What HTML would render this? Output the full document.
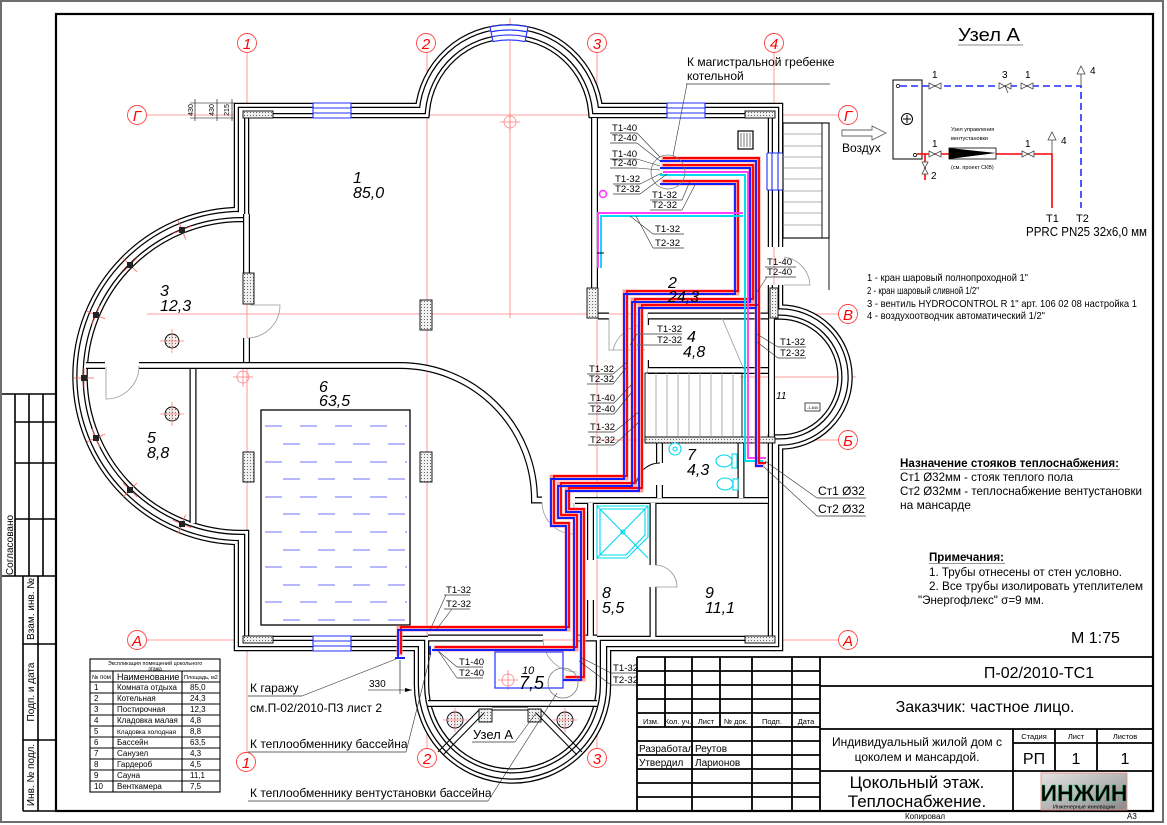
<!DOCTYPE html>
<html><head><meta charset="utf-8"><title>plan</title>
<style>
html,body{margin:0;padding:0;background:#fff;width:1167px;height:825px;overflow:hidden}
svg{display:block}
text{font-family:"Liberation Sans",Arial,sans-serif;fill:#000}
.ax{stroke:#ff8080;stroke-width:.8;fill:none}
.axc{stroke:#ff4040;stroke-width:.9;fill:#fff}
.axt{fill:#f00;font-style:italic;font-size:15px;text-anchor:middle}
.wa{stroke:#000;stroke-width:15.5;fill:none}
.wb{stroke:#fff;stroke-width:13;fill:none}
.wc{stroke:#000;stroke-width:7.5;fill:none}
.wd{stroke:#fff;stroke-width:5;fill:none}
.ia{stroke:#000;stroke-width:7;fill:none}
.ib{stroke:#fff;stroke-width:4.6;fill:none}
.rm{font-style:italic;font-size:16px}
.lb{font-size:9.6px}
.ul{stroke:#666;stroke-width:.9;fill:none}
.ld{stroke:#333;stroke-width:.6;fill:none}
.ph{stroke:#ff9d9d;stroke-width:6;fill:none}
.pr{stroke:#f00;stroke-width:1.9;fill:none}
.pb{stroke:#1020ff;stroke-width:1.9;fill:none}
.pm{stroke:#ff40ff;stroke-width:1.9;fill:none}
.pc{stroke:#00dcef;stroke-width:1.9;fill:none}
.g{stroke:#999;stroke-width:.8;fill:none}
.k{stroke:#000;fill:none}
.bw{stroke:#2030ff;stroke-width:1.1;fill:none}
.cy{stroke:#00d8ee;stroke-width:1.1;fill:none}
.tb{stroke:#000;stroke-width:1.8;fill:none}
.t8{font-size:8px}
</style></head><body>
<svg width="1167" height="825" viewBox="0 0 1167 825" xmlns="http://www.w3.org/2000/svg">
<defs>
<pattern id="ht" width="3" height="3" patternUnits="userSpaceOnUse"><rect width="3" height="3" fill="#f0f0f0"/><rect x="1" y="1" width="1" height="1" fill="#666"/></pattern>
<linearGradient id="lg" x1="0" y1="0" x2="1" y2="1"><stop offset="0" stop-color="#e4e4e4"/><stop offset="1" stop-color="#8a8a8a"/></linearGradient>
</defs>

<!-- image border -->
<rect x="1" y="1" width="1162" height="821" fill="none" stroke="#6e6e6e" stroke-width="2"/>
<!-- drawing frame -->
<rect x="56" y="14" width="1097" height="797" fill="none" stroke="#000" stroke-width="2.2"/>

<!-- left stamp -->
<g stroke="#000" stroke-width="1.6" fill="none">
<path d="M2,394 H56 M15,394 V576 M29,394 V576 M43,394 V576 M15,422 H56 M15,463 H56 M15,519 H56 M2,576 H56 M23,576 V811 M38,576 V811 M23,644 H56 M23,740 H56 M23,811 H56"/>
</g>
<text font-size="10" text-anchor="middle" transform="translate(13,545) rotate(-90)">Согласовано</text>
<text font-size="10" text-anchor="middle" transform="translate(34,609) rotate(-90)">Взам. инв. №</text>
<text font-size="10" text-anchor="middle" transform="translate(34,692) rotate(-90)">Подп. и дата</text>
<text font-size="10" text-anchor="middle" transform="translate(34,775) rotate(-90)">Инв. № подл.</text>

<!-- axes -->
<path class="ax" d="M247,53 V752 M427,53 V748 M597,53 V748 M774,53 V652 M510,18 V318 M147,115 H838 M147,314 H838 M600,440 H838 M147,640 H838 M740,377 H856"/>
<g>
<circle class="axc" cx="247" cy="43" r="9.5"/><text class="axt" x="247" y="49">1</text>
<circle class="axc" cx="426" cy="43" r="9.5"/><text class="axt" x="426" y="49">2</text>
<circle class="axc" cx="597" cy="43" r="9.5"/><text class="axt" x="597" y="49">3</text>
<circle class="axc" cx="774" cy="43" r="9.5"/><text class="axt" x="774" y="49">4</text>
<circle class="axc" cx="246" cy="762" r="9.5"/><text class="axt" x="246" y="768">1</text>
<circle class="axc" cx="427" cy="758" r="9.5"/><text class="axt" x="427" y="764">2</text>
<circle class="axc" cx="597" cy="758" r="9.5"/><text class="axt" x="597" y="764">3</text>
<circle class="axc" cx="137" cy="115" r="9.5"/><text class="axt" x="137" y="121">Г</text>
<circle class="axc" cx="848" cy="115" r="9.5"/><text class="axt" x="848" y="121">Г</text>
<circle class="axc" cx="848" cy="314" r="9.5"/><text class="axt" x="848" y="320">В</text>
<circle class="axc" cx="848" cy="440" r="9.5"/><text class="axt" x="848" y="446">Б</text>
<circle class="axc" cx="137" cy="640" r="9.5"/><text class="axt" x="137" y="646">А</text>
<circle class="axc" cx="848" cy="640" r="9.5"/><text class="axt" x="848" y="646">А</text>
</g>
<!-- small axis markers -->
<g class="ax">
<circle cx="510" cy="122" r="6"/><path d="M500,122 H520 M510,112 V132"/>
<circle cx="243" cy="377" r="6"/><path d="M233,377 H253 M243,367 V387"/>
<circle cx="508" cy="680" r="6"/><path d="M498,680 H518 M508,670 V690"/>
</g>

<!-- dimension top-left -->
<g stroke="#000" stroke-width=".6" fill="none">
<path d="M190,103 H234 M190,118 H234 M195,99 V121 M217,99 V121 M232,99 V121"/>
</g>
<text font-size="7" text-anchor="middle" transform="translate(193,110) rotate(-90)">430</text>
<text font-size="7" text-anchor="middle" transform="translate(214,110) rotate(-90)">430</text>
<text font-size="7" text-anchor="middle" transform="translate(229,110) rotate(-90)">215</text>

<!-- outer walls -->
<g>
<path class="wa" d="M775.5,247 L775.5,110.5 L595.6,110.5 A87,87 0 0 0 422.4,110.5 L241.5,110.5 L241.5,214.5 A161.5,161.5 0 0 0 241.5,537.5 L241.5,643.5 L421.5,643.5 L421.5,685 A91,91 0 0 0 603.5,685 L603.5,643.5 L775.5,643.5 L775.5,442 L780,442 A65,65 0 0 0 780,312 L775.5,312 L775.5,285"/>
<path class="wb" d="M775.5,247 L775.5,110.5 L595.6,110.5 A87,87 0 0 0 422.4,110.5 L241.5,110.5 L241.5,214.5 A161.5,161.5 0 0 0 241.5,537.5 L241.5,643.5 L421.5,643.5 L421.5,685 A91,91 0 0 0 603.5,685 L603.5,643.5 L775.5,643.5 L775.5,442 L780,442 A65,65 0 0 0 780,312 L775.5,312 L775.5,285"/>
<path class="wc" d="M775.5,247 L775.5,110.5 L595.6,110.5 A87,87 0 0 0 422.4,110.5 L241.5,110.5 L241.5,214.5 A161.5,161.5 0 0 0 241.5,537.5 L241.5,643.5 L421.5,643.5 L421.5,685 A91,91 0 0 0 603.5,685 L603.5,643.5 L775.5,643.5 L775.5,442 L780,442 A65,65 0 0 0 780,312 L775.5,312 L775.5,285"/>
<path class="wd" d="M775.5,247 L775.5,110.5 L595.6,110.5 A87,87 0 0 0 422.4,110.5 L241.5,110.5 L241.5,214.5 A161.5,161.5 0 0 0 241.5,537.5 L241.5,643.5 L421.5,643.5 L421.5,685 A91,91 0 0 0 603.5,685 L603.5,643.5 L775.5,643.5 L775.5,442 L780,442 A65,65 0 0 0 780,312 L775.5,312 L775.5,285"/>
</g>

<!-- interior walls -->
<path class="ia" d="M246.5,214 V273 M246.5,338 V362 M86,365.5 H105 M139,365.5 H400 A134.5,134.5 0 0 1 534.5,500 H542 M193,369 V523 M594.5,118 V288 M598,316 H609 M645.5,313 V325 M645.5,360 V373 M648,316 H768 M648,370.5 H768 M771.5,318 V440 M575,500.5 H768 M590.5,503 V560 M590.5,600 V637 M653,503 V565 M653,587 V637 M659.5,443 V463 M659.5,485 V498 M741,443 V498 M428,638 H543 M578,638 H597 M428,703.5 H597"/>
<path class="ib" d="M246.5,214 V273 M246.5,338 V362 M86,365.5 H105 M139,365.5 H400 A134.5,134.5 0 0 1 534.5,500 H542 M193,369 V523 M594.5,118 V288 M598,316 H609 M645.5,313 V325 M645.5,360 V373 M648,316 H768 M648,370.5 H768 M771.5,318 V440 M575,500.5 H768 M590.5,503 V560 M590.5,600 V637 M653,503 V565 M653,587 V637 M659.5,443 V463 M659.5,485 V498 M741,443 V498 M428,638 H543 M578,638 H597 M428,703.5 H597"/>

<!-- windows -->
<g>
<rect x="313" y="102" width="38" height="17" fill="#fff"/>
<path class="bw" d="M313,103 H351 M313,108 H351 M313,113 H351 M313,118 H351 M313,103 V118 M351,103 V118"/>
<rect x="667" y="102" width="38" height="17" fill="#fff"/>
<path class="bw" d="M667,103 H705 M667,108 H705 M667,113 H705 M667,118 H705 M667,103 V118 M705,103 V118"/>
<rect x="313" y="636" width="38" height="16" fill="#fff"/>
<path class="bw" d="M313,636 H351 M313,641 H351 M313,646 H351 M313,651 H351 M313,636 V651 M351,636 V651"/>
<rect x="767" y="153" width="17" height="37" fill="#fff"/>
<path class="bw" d="M767,153 V190 M772,153 V190 M778,153 V190 M783,153 V190 M767,153 H783 M767,190 H783"/>
<path d="M490,26.9 A94,94 0 0 1 528,26.9 L525,41.6 A79,79 0 0 0 493,41.6 Z" fill="#fff"/>
<path class="bw" d="M490,26.9 A94,94 0 0 1 528,26.9 M491,31.8 A89,89 0 0 1 527,31.8 M492,36.7 A84,84 0 0 1 526,36.7 M493,41.6 A79,79 0 0 1 525,41.6 M490,26.9 L493,41.6 M528,26.9 L525,41.6"/>
</g>

<!-- hatched blocks & piers -->
<g stroke="#000" stroke-width=".9" fill="url(#ht)">
<rect x="243" y="111" width="30" height="7"/>
<rect x="745" y="111" width="30" height="7"/>
<rect x="243" y="636" width="30" height="7"/>
<rect x="745" y="636" width="30" height="7"/>
<rect x="243" y="273" width="11" height="31"/>
<rect x="243" y="452" width="11" height="30"/>
<rect x="420" y="300" width="12" height="30"/>
<rect x="420" y="452" width="12" height="30"/>
<rect x="587" y="288" width="11" height="30"/>
<rect x="770" y="288" width="8" height="30"/>
<rect x="645" y="437" width="130" height="6"/>
<rect x="479" y="709" width="13" height="13"/>
<rect x="528" y="709" width="13" height="13"/>
<circle cx="172" cy="341" r="7"/>
<circle cx="172" cy="414" r="7"/>
<circle cx="455" cy="720" r="8"/>
<circle cx="565" cy="720" r="8"/>
</g>
<g class="ax">
<path d="M160,341 H184 M172,329 V353 M160,414 H184 M172,402 V426 M443,720 H467 M455,708 V732 M553,720 H577 M565,708 V732"/>
</g>

<!-- posts on big arc -->
<g stroke="#ff6060" stroke-width=".8">
<path d="M185.8,239.3 L178.2,220.7 M191.3,226.2 L172.7,233.8 M137.1,272 L122.9,258 M137,257.9 L123,272.1 M105.2,318.9 L86.8,311.1 M99.9,305.8 L92.1,324.2 M94,378 L74,378 M84,368 L84,388 M105.2,434.1 L86.8,441.9 M99.9,447.2 L92.1,428.8 M137,482.9 L123,497.2 M137.2,497 L122.9,483 M185.7,514.7 L178.3,533.3 M191.3,527.7 L172.7,520.3"/>
</g>
<g fill="#222">
<rect x="179" y="227" width="6" height="6"/><rect x="127" y="262" width="6" height="6"/><rect x="93" y="312" width="6" height="6"/><rect x="81" y="375" width="6" height="6"/><rect x="93" y="435" width="6" height="6"/><rect x="127" y="487" width="6" height="6"/><rect x="179" y="521" width="6" height="6"/>
</g>

<!-- pool -->
<rect x="261" y="410" width="149" height="215" fill="none" stroke="#000" stroke-width="1.3"/>
<g stroke="#7070ff" stroke-width="1" stroke-dasharray="17 18">
<path d="M265,426 H407"/><path d="M265,444 H407" stroke-dashoffset="17"/>
<path d="M265,462 H407"/><path d="M265,479 H407" stroke-dashoffset="17"/>
<path d="M265,497 H407"/><path d="M265,514 H407" stroke-dashoffset="17"/>
<path d="M265,532 H407"/><path d="M265,550 H407" stroke-dashoffset="17"/>
<path d="M265,567 H407"/><path d="M265,585 H407" stroke-dashoffset="17"/>
<path d="M265,602 H407"/><path d="M265,620 H407" stroke-dashoffset="17"/>
</g>

<!-- stairs inside -->
<rect x="645" y="373" width="97" height="64" fill="none" stroke="#000" stroke-width=".9"/>
<path class="g" d="M656,373 V437 M667,373 V437 M678,373 V437 M689,373 V437 M700,373 V437 M711,373 V437 M722,373 V437 M733,373 V437 M722,318 L745,372"/>
<!-- outer stairs -->
<rect x="783" y="123" width="46" height="115" fill="none" stroke="#000" stroke-width="1.1"/>
<path class="g" d="M783,134 H822 M783,146 H822 M783,157 H822 M783,168 H822 M783,179 H822 M783,191 H822 M783,202 H822 M783,213 H822 M783,225 H822"/>
<path d="M822,123 V238 M829,238 V290" stroke="#000" stroke-width=".9"/>

<!-- doors -->
<g class="g" stroke="#888">
<path d="M250,305 H280 A33,33 0 0 1 247,338"/>
<path d="M106,367 V399 A33,33 0 0 0 139,366"/>
<path d="M542,502 A32,32 0 0 0 574,534 V503"/>
<path d="M609,318 V350 H645 M613,350 A33,33 0 0 1 643,325"/>
<path d="M655,565 A22,22 0 0 1 677,587 H655"/>
<path d="M784,257 A30,30 0 0 1 810,285 H784"/>
<path d="M543,639 A34,34 0 0 0 577,672"/>
</g>
<path d="M660,463 A24,24 0 0 0 636,487" fill="none" stroke="#000" stroke-width="1"/>

<!-- vent room bottom beams -->
<g stroke="#000" stroke-width="1" fill="none">
<path d="M479,710 L438,752 M484,713 L443,755 M541,710 L582,752 M536,713 L577,755 M492,710 H528 M492,707 H528"/>
</g>
<!-- room 10 box -->
<rect x="495" y="652" width="68" height="36" fill="none" stroke="#2030ff" stroke-width="1.2"/>

<!-- sanitary -->
<g class="cy">
<circle cx="675" cy="449" r="6"/><circle cx="675" cy="449" r="2"/>
<ellipse cx="724" cy="461" rx="8" ry="6"/><rect x="732" y="454" width="5" height="14"/>
<ellipse cx="725" cy="484" rx="8" ry="6"/><rect x="733" y="479" width="5" height="11"/>
<path d="M597,506 H648 V537 L627,558 H597 Z M600,509 H645 V535 L626,555 H600 Z M597,506 L648,558 M648,506 L597,558"/>
<circle cx="623" cy="532" r="2"/>
</g>
<rect x="738" y="131" width="15" height="18" fill="#fff" stroke="#000" stroke-width="1.2"/>
<path d="M741,133 V147 M744,133 V147 M747,133 V147 M750,133 V147" stroke="#555" stroke-width=".8"/>
<circle cx="603" cy="194" r="3.5" fill="none" stroke="#ff30ff" stroke-width="1.5"/>

<!-- room 11 -->
<text x="776" y="399" font-size="10" font-style="italic">11</text>
<rect x="805" y="403" width="15" height="8" fill="#fff" stroke="#000" stroke-width=".7"/>
<text x="807" y="409" font-size="4">-1,840</text>

<!-- PIPES -->
<g>
<polyline class="ph" transform="translate(1.5,-1.5)" points="660,184 735,184 735,294 624,294 624,479 551,479 551,526 566,526 566,630 398,630 398,657"/>
<polyline class="ph" transform="translate(1.5,-1.5)" points="660,168 750,168 750,302 632,302 632,486 558,486 558,518 574,518 574,650 432,650"/>
<polyline class="ph" transform="translate(1.5,-1.5)" points="756,308 639,308 639,491 566,491 566,512 581,512 581,680 563,680"/>
<polyline class="ph" transform="translate(1.5,-1.5)" points="660,161 756,161 756,466 763,466"/>

<polyline class="pr" transform="translate(3,-3)" points="660,184 735,184 735,294 624,294 624,479 551,479 551,526 566,526 566,630 398,630 398,657"/>
<polyline class="pb" points="660,184 735,184 735,294 624,294 624,479 551,479 551,526 566,526 566,630 398,630 398,657"/>
<polyline class="pr" transform="translate(3,-3)" points="660,168 750,168 750,302 632,302 632,486 558,486 558,518 574,518 574,650 432,650"/>
<polyline class="pb" points="660,168 750,168 750,302 632,302 632,486 558,486 558,518 574,518 574,650 432,650"/>
<polyline class="pr" transform="translate(3,-3)" points="756,308 639,308 639,491 566,491 566,512 581,512 581,680 563,680"/>
<polyline class="pb" points="756,308 639,308 639,491 566,491 566,512 581,512 581,680 563,680"/>
<polyline class="pm" transform="translate(3,-3)" points="660,175 745,175 745,461 763,461"/>
<polyline class="pc" points="660,175 745,175 745,461 763,461"/>
<polyline class="pr" transform="translate(3,-3)" points="660,161 756,161 756,466 763,466"/>
<polyline class="pb" points="660,161 756,161 756,466 763,466"/>
<polyline class="pm" points="743,213 598,213 598,268"/>
<polyline class="pc" points="743,216 601,216 601,268"/>
<path d="M395,658 H405 M430,646 V655" stroke="#1020ff" stroke-width="2"/>
<path d="M597,253 H604" stroke="#000" stroke-width="1"/>
</g>

<!-- leader circles -->
<circle cx="668" cy="172" r="17" fill="none" stroke="#777" stroke-width=".8"/>
<circle cx="563" cy="683" r="15" fill="none" stroke="#777" stroke-width=".8"/>

<!-- room labels -->
<g class="rm">
<text x="353" y="183">1</text><text x="353" y="198">85,0</text>
<text x="160" y="296">3</text><text x="160" y="311">12,3</text>
<text x="147" y="443">5</text><text x="147" y="458">8,8</text>
<text x="319" y="392">6</text><text x="319" y="406">63,5</text>
<text x="668" y="288">2</text><text x="668" y="302">24,3</text>
<text x="687" y="342">4</text><text x="683" y="357">4,8</text>
<text x="687" y="460">7</text><text x="687" y="475">4,3</text>
<text x="602" y="598">8</text><text x="602" y="613">5,5</text>
<text x="705" y="598">9</text><text x="705" y="613">11,1</text>
<text x="522" y="674" font-size="11">10</text><text x="519" y="689" font-size="18">7,5</text>
</g>

<!-- pipe labels -->
<g class="lb">
<text x="612" y="131">T1-40</text><text x="612" y="141">T2-40</text>
<text x="612" y="157">T1-40</text><text x="612" y="166">T2-40</text>
<text x="615" y="182">T1-32</text><text x="615" y="192">T2-32</text>
<text x="652" y="198">T1-32</text><text x="652" y="208">T2-32</text>
<text x="655" y="232">T1-32</text><text x="655" y="246">T2-32</text>
<text x="767" y="265">T1-40</text><text x="767" y="275">T2-40</text>
<text x="657" y="332">T1-32</text><text x="657" y="343">T2-32</text>
<text x="780" y="345">T1-32</text><text x="780" y="356">T2-32</text>
<text x="589" y="372">T1-32</text><text x="589" y="382">T2-32</text>
<text x="590" y="401">T1-40</text><text x="590" y="412">T2-40</text>
<text x="590" y="430">T1-32</text><text x="590" y="443">T2-32</text>
<text x="446" y="593">T1-32</text><text x="446" y="607">T2-32</text>
<text x="459" y="665">T1-40</text><text x="459" y="676">T2-40</text>
<text x="613" y="671">T1-32</text><text x="613" y="683">T2-32</text>
</g>
<g class="ul">
<path d="M610,133 H637 M610,143 H637 M610,159 H637 M610,168 H637 M613,184 H640 M613,194 H640 M650,200 H682 M650,210 H682 M653,234 H684 M653,248 H684 M765,267 H796 M765,277 H796 M637,334 H682 M637,345 H682 M778,347 H806 M778,358 H806 M587,374 H613 M587,384 H613 M588,403 H614 M588,414 H614 M588,432 H614 M588,445 H614 M444,595 H470 M444,609 H470 M457,667 H483 M457,678 H483 M611,673 H637 M611,685 H637"/>
</g>
<g class="ld">
<path d="M637,133 L660,157 M637,143 L660,161 M637,159 L660,166 M637,168 L660,170 M640,184 L662,173 M640,194 L667,174 M682,200 L690,181 M682,210 L696,183 M653,234 L630,216 M653,248 L636,216 M767,277 L757,292 M637,334 L630,345 M778,347 L757,334 M778,358 L757,342 M613,374 L627,362 M613,384 L626,368 M614,403 L633,383 M614,414 L632,392 M614,432 L640,411 M614,445 L639,422 M446,595 L430,630 M452,609 L436,630 M457,667 L437,650 M457,678 L439,652 M611,673 L580,657 M611,685 L579,661"/>
</g>

<!-- К магистральной гребенке -->
<text x="687" y="66" font-size="12">К магистральной гребенке</text>
<text x="687" y="80" font-size="12">котельной</text>
<path class="ul" d="M686,84 H830"/>
<path class="ld" d="M687,84 L673,156"/>

<!-- Ст1 / Ст2 -->
<text x="818" y="495" font-size="12">Ст1 Ø32</text>
<text x="818" y="513" font-size="12">Ст2 Ø32</text>
<path class="ul" d="M817,498 H866 M817,516 H866"/>
<path class="ld" d="M817,498 L765,461 M817,516 L764,467"/>

<!-- bottom-left callouts -->
<text x="250" y="692" font-size="12">К гаражу</text>
<text x="250" y="712" font-size="12">см.П-02/2010-ПЗ лист 2</text>
<text x="250" y="748" font-size="12">К теплообменнику бассейна</text>
<text x="250" y="797" font-size="12">К теплообменнику вентустановки бассейна</text>
<path class="ul" d="M248,696 H302 M248,752 H406 M248,801 H488 M472,742 H515"/>
<path class="ld" d="M302,696 L396,659 M406,752 L431,653 M488,801 L557,693 M515,742 L536,713"/>
<text x="473" y="739" font-size="13">Узел А</text>
<text x="369" y="687" font-size="10">330</text>
<path d="M368,690 H412 M400,660 V694" stroke="#000" stroke-width=".6" fill="none"/>
<path d="M412,690 L405,688 L405,692 Z" fill="#000"/>

<!-- explication table -->
<g stroke="#000" stroke-width="1.1" fill="none">
<rect x="90" y="659" width="130" height="133"/>
<path d="M90,671 H220 M90,682 H220 M90,693 H220 M90,704 H220 M90,715 H220 M90,726 H220 M90,737 H220 M90,748 H220 M90,759 H220 M90,770 H220 M90,781 H220 M113,671 V792 M182,671 V792"/>
</g>
<text x="155" y="665" font-size="5.5" text-anchor="middle">Экспликация помещений цокольного</text>
<text x="155" y="670.5" font-size="5" text-anchor="middle">этажа</text>
<g font-size="8">
<text x="92" y="679" font-size="6">№ пом</text><text x="117" y="680" font-size="9">Наименование</text><text x="184" y="679" font-size="5.5">Площадь, м2</text>
<text x="94" y="690">1</text><text x="117" y="690">Комната отдыха</text><text x="190" y="690">85,0</text>
<text x="94" y="701">2</text><text x="117" y="701">Котельная</text><text x="190" y="701">24,3</text>
<text x="94" y="712">3</text><text x="117" y="712">Постирочная</text><text x="190" y="712">12,3</text>
<text x="94" y="723">4</text><text x="117" y="723">Кладовка малая</text><text x="190" y="723">4,8</text>
<text x="94" y="734">5</text><text x="117" y="734" font-size="6.5">Кладовка холодная</text><text x="190" y="734">8,8</text>
<text x="94" y="745">6</text><text x="117" y="745">Бассейн</text><text x="190" y="745">63,5</text>
<text x="94" y="756">7</text><text x="117" y="756">Санузел</text><text x="190" y="756">4,3</text>
<text x="94" y="767">8</text><text x="117" y="767">Гардероб</text><text x="190" y="767">4,5</text>
<text x="94" y="778">9</text><text x="117" y="778">Сауна</text><text x="190" y="778">11,1</text>
<text x="94" y="789">10</text><text x="117" y="789">Венткамера</text><text x="190" y="789">7,5</text>
</g>

<!-- Узел А top-right -->
<text x="958" y="41" font-size="18" textLength="62" lengthAdjust="spacingAndGlyphs">Узел А</text>
<path d="M958,45 H1023" stroke="#888" stroke-width="1"/>
<rect x="893" y="80" width="29" height="79" fill="#fff" stroke="#000" stroke-width="1"/>
<circle cx="907" cy="119" r="5.5" fill="none" stroke="#000" stroke-width="1"/>
<path d="M903,119 H911 M907,115 V123" stroke="#000" stroke-width="1"/>
<circle cx="898" cy="86" r="1.6" fill="#fff" stroke="#000" stroke-width=".7"/>
<circle cx="915" cy="155" r="1.6" fill="#fff" stroke="#000" stroke-width=".7"/>
<path d="M900,86 H1081 V208" stroke="#2030ff" stroke-width="1.6" stroke-dasharray="7 4" fill="none"/>
<path d="M917,154 H1052 V208 M925,154 V180" stroke="#f00" stroke-width="1.6" fill="none"/>
<g fill="#fff" stroke="#444" stroke-width=".8">
<path d="M929,83 L941,89 V83 L929,89 Z"/>
<path d="M999,83 L1011,89 V83 L999,89 Z"/><path d="M1005,86 L1008,93" fill="none"/>
<path d="M1021,83 L1033,89 V83 L1021,89 Z"/>
<path d="M929,151 L941,157 V151 L929,157 Z"/>
<path d="M1022,151 L1034,157 V151 L1022,157 Z"/>
<path d="M922,162 L928,174 H922 L928,162 Z"/>
<path d="M1077,74 L1081,66 L1085,74 Z"/><path d="M1081,74 V86" fill="none"/>
<path d="M1048,140 L1052,132 L1056,140 Z"/><path d="M1052,140 V154" fill="none"/>
</g>
<rect x="949" y="148" width="47" height="11" fill="#fff" stroke="#000" stroke-width=".8"/>
<path d="M949,148 L996,153 L949,159 Z" fill="#000"/>
<g font-size="10">
<text x="932" y="78">1</text><text x="1002" y="78">3</text><text x="1025" y="78">1</text><text x="1090" y="74">4</text>
<text x="932" y="147">1</text><text x="1025" y="147">1</text><text x="1061" y="144">4</text><text x="931" y="179">2</text>
</g>
<text x="951" y="131" font-size="5.5">Узел управления</text>
<text x="951" y="140" font-size="5.5">вентустановки</text>
<text x="951" y="169" font-size="5.5">(см. проект СКВ)</text>
<text x="1046" y="222" font-size="11">T1</text><text x="1076" y="222" font-size="11">T2</text>
<text x="1026" y="236" font-size="13" textLength="121" lengthAdjust="spacingAndGlyphs">PPRC PN25 32x6,0 мм</text>
<path d="M842,130 H872 V126 L886,133 L872,140 V136 H842 Z" fill="#fff" stroke="#666" stroke-width=".9"/>
<text x="842" y="152" font-size="12">Воздух</text>

<!-- legend -->
<g font-size="10.5">
<text x="867" y="281" textLength="161" lengthAdjust="spacingAndGlyphs">1 - кран шаровый полнопроходной 1"</text>
<text x="867" y="294" textLength="112" lengthAdjust="spacingAndGlyphs">2 - кран шаровый сливной 1/2"</text>
<text x="867" y="307" textLength="270" lengthAdjust="spacingAndGlyphs">3 - вентиль HYDROCONTROL R 1" арт. 106 02 08  настройка 1</text>
<text x="867" y="319" textLength="178" lengthAdjust="spacingAndGlyphs">4 - воздухоотводчик автоматический 1/2"</text>
</g>

<!-- notes -->
<text x="900" y="467" font-size="12" font-weight="bold" textLength="219" lengthAdjust="spacingAndGlyphs">Назначение стояков теплоснабжения:</text>
<path d="M900,469.5 H1120" stroke="#999" stroke-width="1"/>
<text x="900" y="481" font-size="12" textLength="173" lengthAdjust="spacingAndGlyphs">Ст1 Ø32мм - стояк теплого пола</text>
<text x="900" y="495" font-size="12" textLength="242" lengthAdjust="spacingAndGlyphs">Ст2 Ø32мм - теплоснабжение вентустановки</text>
<text x="900" y="509" font-size="12">на мансарде</text>
<text x="929" y="561" font-size="12" font-weight="bold" textLength="75" lengthAdjust="spacingAndGlyphs">Примечания:</text>
<path d="M929,563.5 H1005" stroke="#999" stroke-width="1"/>
<text x="929" y="576" font-size="12" textLength="193" lengthAdjust="spacingAndGlyphs">1. Трубы отнесены от стен условно.</text>
<text x="929" y="590" font-size="12" textLength="214" lengthAdjust="spacingAndGlyphs">2. Все трубы изолировать утеплителем</text>
<text x="918" y="604" font-size="12" textLength="126" lengthAdjust="spacingAndGlyphs">"Энергофлекс" σ=9 мм.</text>
<text x="1071" y="643" font-size="16">М 1:75</text>

<!-- title block -->
<g class="tb">
<path d="M637,657 H1153 M637,657 V811"/>
<path d="M637,671 H820 M637,685 H820 M637,699 H820 M637,713 H820 M637,727 H820 M637,741 H820 M637,755 H820 M637,769 H820 M637,783 H820 M637,797 H820"/>
<path d="M665,657 V727 M720,657 V727 M692,657 V811 M752,657 V811 M792,657 V811 M820,657 V811"/>
<path d="M820,686 H1153 M820,729 H1153 M1013,743 H1153 M820,771 H1153 M1013,729 V811 M1055,729 V771 M1097,729 V771"/>
</g>
<g font-size="7.5" text-anchor="middle">
<text x="651" y="724">Изм.</text><text x="678" y="724">Кол. уч.</text><text x="706" y="724">Лист</text><text x="736" y="724">№ док.</text><text x="772" y="724">Подп.</text><text x="806" y="724">Дата</text>
<text x="1034" y="739">Стадия</text><text x="1076" y="739">Лист</text><text x="1125" y="739">Листов</text>
</g>
<g font-size="10">
<text x="639" y="752">Разработал</text><text x="695" y="752">Реутов</text>
<text x="639" y="766">Утвердил</text><text x="695" y="766">Ларионов</text>
</g>
<text x="1039" y="678" font-size="16" text-anchor="middle">П-02/2010-ТС1</text>
<text x="985" y="712" font-size="16" text-anchor="middle">Заказчик: частное лицо.</text>
<text x="917" y="746" font-size="12" text-anchor="middle">Индивидуальный жилой дом с</text>
<text x="917" y="761" font-size="12" text-anchor="middle">цоколем и мансардой.</text>
<text x="1034" y="764" font-size="16" text-anchor="middle">РП</text>
<text x="1076" y="764" font-size="16" text-anchor="middle">1</text>
<text x="1125" y="764" font-size="16" text-anchor="middle">1</text>
<text x="917" y="788" font-size="17" text-anchor="middle">Цокольный этаж.</text>
<text x="917" y="807" font-size="17" text-anchor="middle">Теплоснабжение.</text>
<rect x="1041" y="773" width="86" height="37" fill="url(#lg)" stroke="#e88" stroke-width=".8"/>
<text x="1084" y="801" font-size="23" font-weight="bold" text-anchor="middle" fill="#111" stroke="#2a6" stroke-width=".4">ИНЖИН</text>
<text x="1084" y="808.5" font-size="5.5" text-anchor="middle" fill="#2a2">Инженерные инновации</text>
<text x="905" y="819" font-size="8">Копировал</text>
<text x="1127" y="819" font-size="8">А3</text>
</svg>
</body></html>
